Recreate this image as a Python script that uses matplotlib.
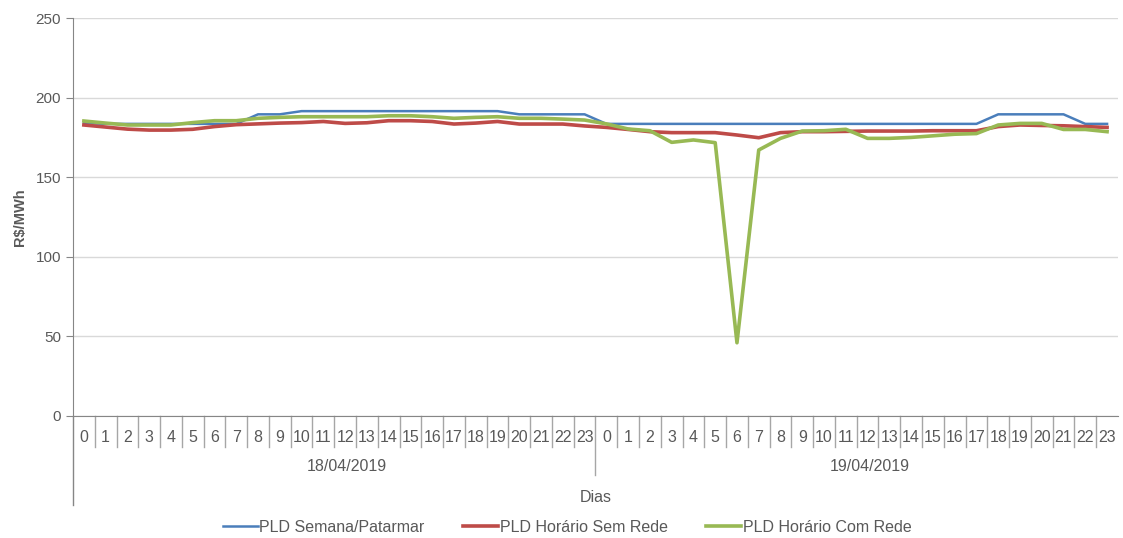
import matplotlib.pyplot as plt
import matplotlib.transforms as mtransforms
import numpy as np

plt.rcParams['font.family'] = ['Liberation Sans', 'DejaVu Sans']

# data
days = ['18/04/2019', '19/04/2019']
hours = list(range(24))
semana = [184, 183.5, 183.5, 183.5, 183.5, 183.5, 183.5, 183.5, 189.5, 189.5,
          191.5, 191.5, 191.5, 191.5, 191.5, 191.5, 191.5, 191.5, 191.5, 191.5,
          189.5, 189.5, 189.5, 189.5,
          183.5, 183.5, 183.5, 183.5, 183.5, 183.5, 183.5, 183.5, 183.5, 183.5,
          183.5, 183.5, 183.5, 183.5, 183.5, 183.5, 183.5, 183.5,
          189.5, 189.5, 189.5, 189.5, 183.5, 183.5]
sem_rede = [182.8, 181.5, 180.2, 179.6, 179.6, 180.1, 181.8, 183, 183.5, 184,
            184.3, 185, 183.8, 184.2, 185.5, 185.5, 185, 183.4, 184, 185,
            183.4, 183.4, 183.4, 182.2,
            181.3, 180, 178.6, 178, 178, 178, 176.5, 174.8, 178, 178.6,
            178.6, 178.8, 179, 179, 179, 179.2, 179.2, 179.2,
            181.8, 182.8, 182.5, 182.3, 181.8, 181.3]
com_rede = [185.3, 184, 182.8, 182.8, 182.8, 184.3, 185.5, 185.5, 187, 187.6,
            188, 188, 188, 188, 188.6, 188.6, 188, 187, 187.6, 188,
            187, 187, 186.5, 185.9,
            183.5, 180.3, 179.2, 171.9, 173.4, 171.7, 46, 167.1, 174.4, 179,
            179.2, 180.1, 174.4, 174.4, 175, 176, 177, 177.4,
            182.8, 183.8, 183.8, 180, 180, 178.6]

x = np.arange(len(semana))
txt = '#595959'
axcol = '#868686'

fig = plt.figure(figsize=(11.23, 5.38), dpi=100)
ax = fig.add_axes([0.065, 0.2268, 0.9305, 0.7397])

ax.plot(x, semana, color='#4a7ebb', lw=1.8, label='PLD Semana/Patarmar')
ax.plot(x, sem_rede, color='#be4b48', lw=2.6, label='PLD Horário Sem Rede')
ax.plot(x, com_rede, color='#98b954', lw=2.6, label='PLD Horário Com Rede')

ax.set_xlim(-0.5, len(x) - 0.5)
ax.set_ylim(0, 250)
ax.set_yticks(range(0, 251, 50))
ax.grid(axis='y', color='#d9d9d9', lw=1)
ax.set_axisbelow(True)
for s in ['top', 'right']:
    ax.spines[s].set_visible(False)
ax.spines['left'].set_color(axcol)
ax.spines['bottom'].set_color(axcol)
ax.tick_params(axis='y', colors=txt, labelsize=11, length=5, color=axcol)
ax.set_xticks([])
ax.set_ylabel('R$/MWh', color=txt, fontsize=10.5, fontweight='bold', labelpad=6)

# multi-level category axis
tr = mtransforms.blended_transform_factory(ax.transData, ax.transAxes)
for i in x:
    ax.text(i, -0.053, str(hours[i % 24]), transform=tr, ha='center', va='center',
            color=txt, fontsize=11.5)
    if i > 0:
        low = -0.148 if i % 24 == 0 else -0.078
        ax.plot([i - 0.5, i - 0.5], [0, low], transform=tr, color='#a6a6a6',
                lw=1, clip_on=False)
for d, day in enumerate(days):
    ax.text(d * 24 + 12.1, -0.128, day, transform=tr, ha='center', va='center',
            color=txt, fontsize=11.5)
ax.plot([-0.5, -0.5], [0, -0.224], transform=tr, color=axcol, lw=1, clip_on=False)
ax.text(0.5, -0.204, 'Dias', transform=ax.transAxes, ha='center', va='center',
        color=txt, fontsize=11.5)

fig.legend(loc='center', bbox_to_anchor=(0.505, 0.02), ncol=3, frameon=False,
           fontsize=11.5, handlelength=2.2, handletextpad=0.1, columnspacing=2.4,
           labelcolor=txt)

fig.savefig('out.png', dpi=100)
